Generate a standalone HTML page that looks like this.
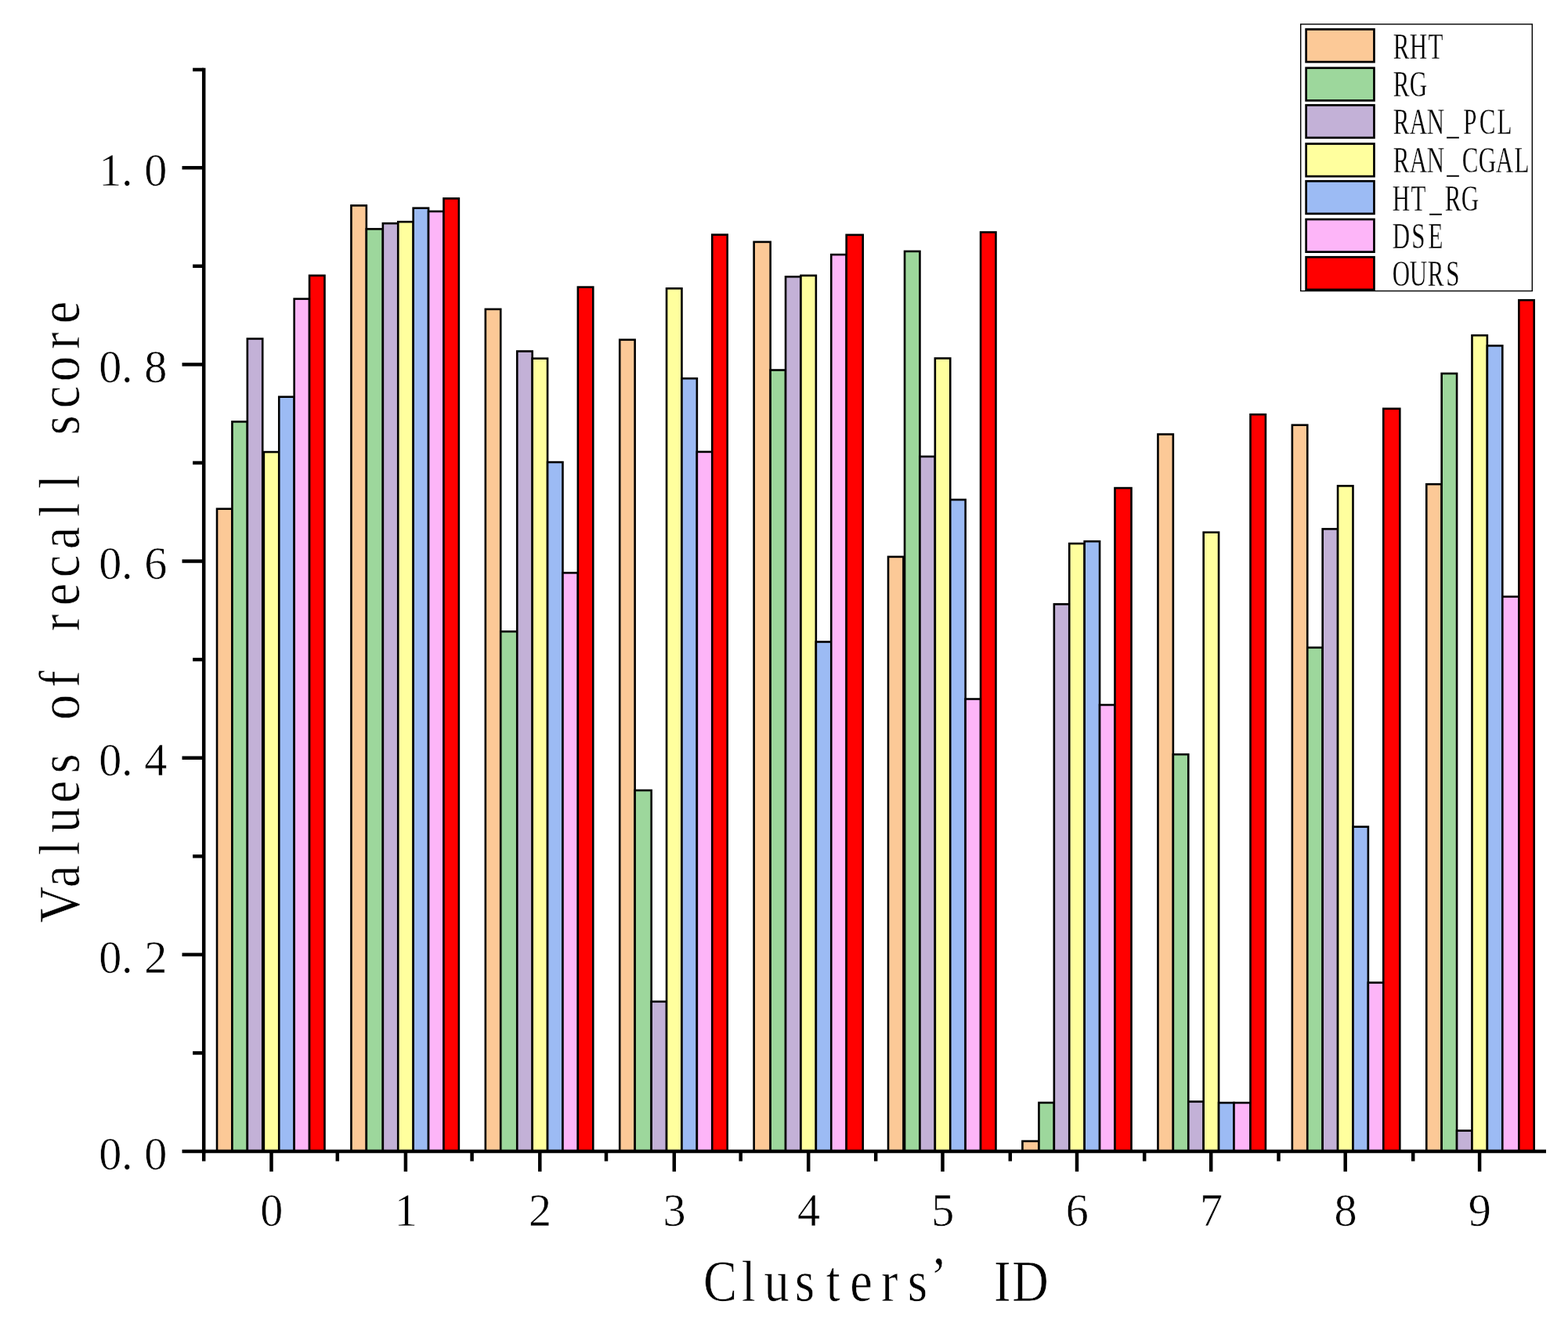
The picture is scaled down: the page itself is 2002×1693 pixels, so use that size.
<!DOCTYPE html>
<html lang="en"><head><meta charset="utf-8">
<title>Values of recall score by cluster</title>
<style>
html,body{margin:0;padding:0;background:#fff;}
body{width:2002px;height:1693px;overflow:hidden;}
svg{display:block;}
text{font-family:"Liberation Serif", serif;fill:#000;stroke:#fff;stroke-width:0.6px;}
.bar{stroke:#000;stroke-width:2.6;stroke-linejoin:miter;}
.ax{stroke:#000;stroke-width:4.5;fill:none;stroke-linecap:butt;}
.tl{font-size:60px;}
.at{font-size:74px;}
.lg{font-size:47px;stroke-width:0.3px;}
</style></head><body>
<svg width="2002" height="1693" viewBox="0 0 2002 1693">
<rect x="0" y="0" width="2002" height="1693" fill="#fff"/>
<g id="bars">
<rect class="bar" x="277.03" y="649.7" width="19.4" height="820.3" fill="#FCC997"/>
<rect class="bar" x="296.43" y="538.4" width="19.4" height="931.6" fill="#9DD79C"/>
<rect class="bar" x="315.83" y="432.5" width="19.4" height="1037.5" fill="#C3B1D7"/>
<rect class="bar" x="336.86" y="577.1" width="19.4" height="892.9" fill="#FFFF9E"/>
<rect class="bar" x="356.26" y="506.7" width="19.4" height="963.3" fill="#9CBBF4"/>
<rect class="bar" x="375.66" y="381.6" width="19.4" height="1088.4" fill="#FDB5F8"/>
<rect class="bar" x="395.07" y="351.8" width="19.4" height="1118.2" fill="#FF0000"/>
<rect class="bar" x="448.43" y="262.4" width="19.4" height="1207.6" fill="#FCC997"/>
<rect class="bar" x="467.83" y="292.4" width="21.02" height="1177.6" fill="#9DD79C"/>
<rect class="bar" x="488.85" y="285.2" width="19.4" height="1184.8" fill="#C3B1D7"/>
<rect class="bar" x="508.26" y="283.2" width="19.4" height="1186.8" fill="#FFFF9E"/>
<rect class="bar" x="527.66" y="265.7" width="19.4" height="1204.3" fill="#9CBBF4"/>
<rect class="bar" x="547.07" y="269.9" width="19.4" height="1200.1" fill="#FDB5F8"/>
<rect class="bar" x="566.47" y="253.4" width="19.4" height="1216.6" fill="#FF0000"/>
<rect class="bar" x="619.83" y="394.8" width="19.4" height="1075.2" fill="#FCC997"/>
<rect class="bar" x="639.24" y="806.3" width="21.02" height="663.7" fill="#9DD79C"/>
<rect class="bar" x="660.26" y="448.5" width="19.4" height="1021.5" fill="#C3B1D7"/>
<rect class="bar" x="679.66" y="457.7" width="19.4" height="1012.3" fill="#FFFF9E"/>
<rect class="bar" x="699.06" y="590.1" width="19.4" height="879.9" fill="#9CBBF4"/>
<rect class="bar" x="718.47" y="731.4" width="19.4" height="738.6" fill="#FDB5F8"/>
<rect class="bar" x="737.87" y="366.6" width="19.4" height="1103.4" fill="#FF0000"/>
<rect class="bar" x="791.23" y="433.8" width="19.4" height="1036.2" fill="#FCC997"/>
<rect class="bar" x="810.64" y="1009.1" width="21.02" height="460.9" fill="#9DD79C"/>
<rect class="bar" x="831.66" y="1278.8" width="19.4" height="191.2" fill="#C3B1D7"/>
<rect class="bar" x="851.06" y="368.3" width="19.4" height="1101.7" fill="#FFFF9E"/>
<rect class="bar" x="870.47" y="483.2" width="19.4" height="986.8" fill="#9CBBF4"/>
<rect class="bar" x="889.87" y="576.9" width="19.4" height="893.1" fill="#FDB5F8"/>
<rect class="bar" x="909.27" y="299.7" width="19.4" height="1170.3" fill="#FF0000"/>
<rect class="bar" x="962.63" y="308.9" width="21.02" height="1161.1" fill="#FCC997"/>
<rect class="bar" x="983.66" y="472.5" width="19.4" height="997.5" fill="#9DD79C"/>
<rect class="bar" x="1003.06" y="353.3" width="19.4" height="1116.7" fill="#C3B1D7"/>
<rect class="bar" x="1022.46" y="351.8" width="19.4" height="1118.2" fill="#FFFF9E"/>
<rect class="bar" x="1041.87" y="819.5" width="19.4" height="650.5" fill="#9CBBF4"/>
<rect class="bar" x="1061.27" y="325.1" width="19.4" height="1144.9" fill="#FDB5F8"/>
<rect class="bar" x="1080.68" y="299.9" width="21.02" height="1170.1" fill="#FF0000"/>
<rect class="bar" x="1134.04" y="710.9" width="19.4" height="759.1" fill="#FCC997"/>
<rect class="bar" x="1155.06" y="320.9" width="19.4" height="1149.1" fill="#9DD79C"/>
<rect class="bar" x="1174.46" y="582.9" width="19.4" height="887.1" fill="#C3B1D7"/>
<rect class="bar" x="1193.87" y="457.5" width="19.4" height="1012.5" fill="#FFFF9E"/>
<rect class="bar" x="1213.27" y="638" width="19.4" height="832" fill="#9CBBF4"/>
<rect class="bar" x="1232.67" y="892.5" width="19.4" height="577.5" fill="#FDB5F8"/>
<rect class="bar" x="1252.08" y="296.5" width="19.4" height="1173.5" fill="#FF0000"/>
<rect class="bar" x="1305.44" y="1457" width="21.02" height="13" fill="#FCC997"/>
<rect class="bar" x="1326.46" y="1407.9" width="19.4" height="62.1" fill="#9DD79C"/>
<rect class="bar" x="1345.86" y="771.4" width="19.4" height="698.6" fill="#C3B1D7"/>
<rect class="bar" x="1365.27" y="694" width="19.4" height="776" fill="#FFFF9E"/>
<rect class="bar" x="1384.67" y="691.2" width="19.4" height="778.8" fill="#9CBBF4"/>
<rect class="bar" x="1404.08" y="900" width="19.4" height="570" fill="#FDB5F8"/>
<rect class="bar" x="1423.48" y="623.1" width="21.02" height="846.9" fill="#FF0000"/>
<rect class="bar" x="1478.46" y="554.5" width="19.4" height="915.5" fill="#FCC997"/>
<rect class="bar" x="1497.86" y="963.2" width="19.4" height="506.8" fill="#9DD79C"/>
<rect class="bar" x="1517.27" y="1406.5" width="19.4" height="63.5" fill="#C3B1D7"/>
<rect class="bar" x="1536.67" y="679.7" width="19.4" height="790.3" fill="#FFFF9E"/>
<rect class="bar" x="1556.07" y="1408" width="19.4" height="62" fill="#9CBBF4"/>
<rect class="bar" x="1575.48" y="1408" width="21.02" height="62" fill="#FDB5F8"/>
<rect class="bar" x="1596.5" y="529.2" width="19.4" height="940.8" fill="#FF0000"/>
<rect class="bar" x="1649.86" y="542.7" width="19.4" height="927.3" fill="#FCC997"/>
<rect class="bar" x="1669.26" y="826.8" width="19.4" height="643.2" fill="#9DD79C"/>
<rect class="bar" x="1688.67" y="675.4" width="19.4" height="794.6" fill="#C3B1D7"/>
<rect class="bar" x="1708.07" y="620.4" width="19.4" height="849.6" fill="#FFFF9E"/>
<rect class="bar" x="1727.48" y="1055.6" width="19.4" height="414.4" fill="#9CBBF4"/>
<rect class="bar" x="1746.88" y="1254.6" width="19.4" height="215.4" fill="#FDB5F8"/>
<rect class="bar" x="1766.28" y="521.8" width="21.02" height="948.2" fill="#FF0000"/>
<rect class="bar" x="1821.26" y="618.2" width="19.4" height="851.8" fill="#FCC997"/>
<rect class="bar" x="1840.67" y="476.9" width="19.4" height="993.1" fill="#9DD79C"/>
<rect class="bar" x="1860.07" y="1443.6" width="19.4" height="26.4" fill="#C3B1D7"/>
<rect class="bar" x="1879.47" y="428.2" width="19.4" height="1041.8" fill="#FFFF9E"/>
<rect class="bar" x="1898.88" y="441.4" width="19.4" height="1028.6" fill="#9CBBF4"/>
<rect class="bar" x="1918.28" y="761.8" width="21.02" height="708.2" fill="#FDB5F8"/>
<rect class="bar" x="1939.3" y="383.2" width="19.4" height="1086.8" fill="#FF0000"/>
</g>
<g id="axes">
<line class="ax" x1="260.2" y1="86.7" x2="260.2" y2="1472.25"/>
<line class="ax" x1="257.95" y1="1470" x2="1974" y2="1470"/>
<line class="ax" x1="232.5" y1="1470" x2="260.2" y2="1470"/>
<line class="ax" x1="246.1" y1="1344.42" x2="260.2" y2="1344.42"/>
<line class="ax" x1="232.5" y1="1218.84" x2="260.2" y2="1218.84"/>
<line class="ax" x1="246.1" y1="1093.26" x2="260.2" y2="1093.26"/>
<line class="ax" x1="232.5" y1="967.68" x2="260.2" y2="967.68"/>
<line class="ax" x1="246.1" y1="842.1" x2="260.2" y2="842.1"/>
<line class="ax" x1="232.5" y1="716.52" x2="260.2" y2="716.52"/>
<line class="ax" x1="246.1" y1="590.94" x2="260.2" y2="590.94"/>
<line class="ax" x1="232.5" y1="465.36" x2="260.2" y2="465.36"/>
<line class="ax" x1="246.1" y1="339.78" x2="260.2" y2="339.78"/>
<line class="ax" x1="232.5" y1="214.2" x2="260.2" y2="214.2"/>
<line class="ax" x1="246.1" y1="88.95" x2="260.2" y2="88.95"/>
<line class="ax" x1="346.5" y1="1470" x2="346.5" y2="1495.8"/>
<line class="ax" x1="517.9" y1="1470" x2="517.9" y2="1495.8"/>
<line class="ax" x1="689.3" y1="1470" x2="689.3" y2="1495.8"/>
<line class="ax" x1="860.8" y1="1470" x2="860.8" y2="1495.8"/>
<line class="ax" x1="1032.2" y1="1470" x2="1032.2" y2="1495.8"/>
<line class="ax" x1="1203.5" y1="1470" x2="1203.5" y2="1495.8"/>
<line class="ax" x1="1375" y1="1470" x2="1375" y2="1495.8"/>
<line class="ax" x1="1546.2" y1="1470" x2="1546.2" y2="1495.8"/>
<line class="ax" x1="1717.7" y1="1470" x2="1717.7" y2="1495.8"/>
<line class="ax" x1="1889.1" y1="1470" x2="1889.1" y2="1495.8"/>
<line class="ax" x1="260.2" y1="1470" x2="260.2" y2="1482.6"/>
<line class="ax" x1="430.8" y1="1470" x2="430.8" y2="1482.6"/>
<line class="ax" x1="602.6" y1="1470" x2="602.6" y2="1482.6"/>
<line class="ax" x1="774" y1="1470" x2="774" y2="1482.6"/>
<line class="ax" x1="945.7" y1="1470" x2="945.7" y2="1482.6"/>
<line class="ax" x1="1118.2" y1="1470" x2="1118.2" y2="1482.6"/>
<line class="ax" x1="1289.8" y1="1470" x2="1289.8" y2="1482.6"/>
<line class="ax" x1="1461.2" y1="1470" x2="1461.2" y2="1482.6"/>
<line class="ax" x1="1632.5" y1="1470" x2="1632.5" y2="1482.6"/>
<line class="ax" x1="1804.2" y1="1470" x2="1804.2" y2="1482.6"/>
</g>
<g id="ticklabels">
<text class="tl" text-anchor="middle" transform="scale(0.97,1)" x="145.26 167.38 205.05" y="1492.8">0.0</text>
<text class="tl" text-anchor="middle" transform="scale(0.97,1)" x="145.26 167.38 205.05" y="1241.64">0.2</text>
<text class="tl" text-anchor="middle" transform="scale(0.97,1)" x="145.26 167.38 205.05" y="990.48">0.4</text>
<text class="tl" text-anchor="middle" transform="scale(0.97,1)" x="145.26 167.38 205.05" y="739.32">0.6</text>
<text class="tl" text-anchor="middle" transform="scale(0.97,1)" x="145.26 167.38 205.05" y="488.16">0.8</text>
<text class="tl" text-anchor="middle" transform="scale(0.97,1)" x="145.26 167.38 205.05" y="237">1.0</text>
<text class="tl" text-anchor="middle" transform="scale(0.97,1)" x="357.53" y="1565.2">0</text>
<text class="tl" text-anchor="middle" transform="scale(0.97,1)" x="534.23" y="1565.2">1</text>
<text class="tl" text-anchor="middle" transform="scale(0.97,1)" x="710.93" y="1565.2">2</text>
<text class="tl" text-anchor="middle" transform="scale(0.97,1)" x="887.73" y="1565.2">3</text>
<text class="tl" text-anchor="middle" transform="scale(0.97,1)" x="1064.43" y="1565.2">4</text>
<text class="tl" text-anchor="middle" transform="scale(0.97,1)" x="1241.03" y="1565.2">5</text>
<text class="tl" text-anchor="middle" transform="scale(0.97,1)" x="1417.84" y="1565.2">6</text>
<text class="tl" text-anchor="middle" transform="scale(0.97,1)" x="1594.33" y="1565.2">7</text>
<text class="tl" text-anchor="middle" transform="scale(0.97,1)" x="1771.13" y="1565.2">8</text>
<text class="tl" text-anchor="middle" transform="scale(0.97,1)" x="1947.84" y="1565.2">9</text>
</g>
<g id="titles">
<text class="at" text-anchor="middle" transform="scale(0.87,1)" x="1057.01 1098.39 1139.77 1181.15 1222.53 1263.91 1305.29 1346.67 1377.7 1429.43 1470.8 1512.18" y="1661.5 1661.5 1661.5 1661.5 1661.5 1661.5 1661.5 1661.5 1656.5 1661.5 1661.5 1661.5">Clusters’ ID</text>
<text class="at" text-anchor="middle" transform="translate(101.1,1173) rotate(-90) scale(0.87,1)" x="20.69 62.07 103.45 144.83 186.21 227.59 268.97 310.34 351.72 393.1 434.48 475.86 517.24 558.62 600 641.38 682.76 724.14 765.52 806.9 848.28 889.66" y="0">Values of recall score</text>
</g>
<g id="legend">
<rect x="1660.7" y="30.9" width="295.6" height="340.6" fill="#fff" stroke="#000" stroke-width="1.4"/>
<rect x="1667.65" y="37.45" width="86.8" height="41.6" fill="#FCC997" stroke="#000" stroke-width="2.7"/>
<text class="lg" text-anchor="middle" transform="scale(0.66,1)" x="2710.61 2743.94 2777.27" y="74.7">RHT</text>
<rect x="1667.65" y="86.75" width="86.8" height="41.6" fill="#9DD79C" stroke="#000" stroke-width="2.7"/>
<text class="lg" text-anchor="middle" transform="scale(0.66,1)" x="2710.61 2743.94" y="122.9">RG</text>
<rect x="1667.65" y="134.25" width="86.8" height="41.6" fill="#C3B1D7" stroke="#000" stroke-width="2.7"/>
<text class="lg" text-anchor="middle" transform="scale(0.66,1)" x="2710.61 2743.94 2777.27 2810.61 2843.94 2877.27 2910.61" y="171.3">RAN_PCL</text>
<rect x="1667.65" y="183.55" width="86.8" height="41.6" fill="#FFFF9E" stroke="#000" stroke-width="2.7"/>
<text class="lg" text-anchor="middle" transform="scale(0.66,1)" x="2710.61 2743.94 2777.27 2810.61 2843.94 2877.27 2910.61 2943.94" y="219.7">RAN_CGAL</text>
<rect x="1667.65" y="231.25" width="86.8" height="41.6" fill="#9CBBF4" stroke="#000" stroke-width="2.7"/>
<text class="lg" text-anchor="middle" transform="scale(0.66,1)" x="2710.61 2743.94 2777.27 2810.61 2843.94" y="268.6">HT_RG</text>
<rect x="1667.65" y="280.05" width="86.8" height="41.6" fill="#FDB5F8" stroke="#000" stroke-width="2.7"/>
<text class="lg" text-anchor="middle" transform="scale(0.66,1)" x="2710.61 2743.94 2777.27" y="316.6">DSE</text>
<rect x="1667.65" y="328.25" width="86.8" height="41.6" fill="#FF0000" stroke="#000" stroke-width="2.7"/>
<text class="lg" text-anchor="middle" transform="scale(0.66,1)" x="2710.61 2743.94 2777.27 2810.61" y="364.9">OURS</text>
</g>
</svg>
</body></html>
